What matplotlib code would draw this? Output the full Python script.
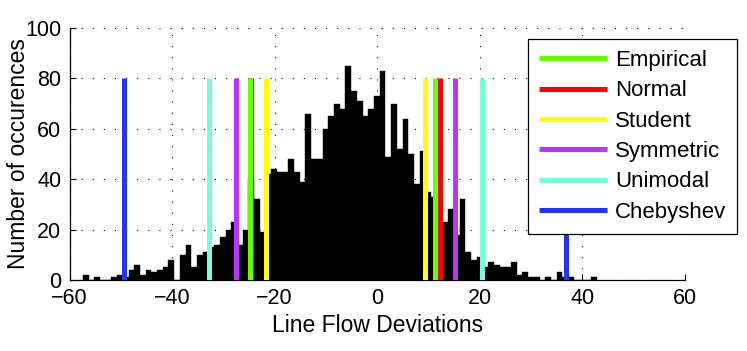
import matplotlib
matplotlib.use("Agg")
import matplotlib.pyplot as plt
import numpy as np

plt.rcParams["font.family"] = ["Liberation Sans", "DejaVu Sans"]
fs = 16.5  # axis label font size
ticks_fs = 15.5
lw = 3.6  # line width of the bound lines

# histogram of line flow deviations (90 bins)
hist_start = -57.4
bin_width = 1.113
counts = [2, 0, 1, 0, 0, 1, 2, 1, 4, 6,
          2, 4, 3, 4, 5, 8, 0, 10, 14, 5,
          10, 11, 13, 14, 17, 20, 23, 14, 20, 40,
          32, 19, 42, 44, 43, 43, 48, 43, 39, 66,
          48, 48, 60, 65, 70, 68, 85, 75, 71, 65,
          68, 73, 83, 49, 70, 52, 64, 50, 38, 51,
          35, 33, 35, 23, 28, 18, 32, 11, 8, 9,
          5, 7, 6, 5, 5, 7, 2, 3, 1, 1,
          0, 1, 0, 3, 1, 1, 0, 0, 0, 1]

# bounds per method
methods = ["Empirical", "Normal", "Student", "Symmetric", "Unimodal", "Chebyshev"]
lower = [-24.9, -24.6, -21.75, -27.6, -32.8, -49.3]
upper = [11.2, 12.2, 9.37, 15.2, 20.4, 36.8]
line_height = 80
colors = ["#66ff00", "#ff0000", "#ffff00", "#bb33ff", "#77ffdd", "#2233ff"]
zorders = [4, 3, 3, 3, 3, 3]

fig = plt.figure(figsize=(7.47, 3.51), dpi=100)
ax = fig.add_axes([69.5 / 747, 1 - 280 / 351, (685 - 69.5) / 747, (280 - 28) / 351])

edges = hist_start + bin_width * np.arange(len(counts))
ax.bar(edges, counts, width=bin_width, align="edge", color="k",
       edgecolor="k", linewidth=0.3, zorder=2)

for name, lo, up, c, z in zip(methods, lower, upper, colors, zorders):
    ax.vlines([lo, up], 0, line_height, colors=c, linewidth=lw, label=name, zorder=z)

ax.set_xlim(-60, 60)
ax.set_ylim(0, 100)
ax.set_xticks(np.arange(-60, 61, 20))
ax.set_yticks(np.arange(0, 101, 20))
ax.tick_params(direction="in", length=4, labelsize=ticks_fs, width=0.8, pad=6)
ax.spines["top"].set_visible(False)
ax.spines["right"].set_visible(False)
for s in ("left", "bottom"):
    ax.spines[s].set_linewidth(0.9)
ax.grid(True, linestyle=(0, (1, 9)), color="k", linewidth=0.8, zorder=1)
ax.set_axisbelow(True)

ax.set_xlabel("Line Flow Deviations", fontsize=fs, labelpad=3)
ax.set_ylabel("Number of occurences", fontsize=fs, labelpad=-3.5)

leg = ax.legend(loc="upper left", bbox_to_anchor=(528 / 747, 1 - 39 / 351),
                bbox_transform=fig.transFigure, fontsize=16, frameon=True,
                fancybox=False, framealpha=1, edgecolor="k", borderaxespad=0,
                handlelength=3.05, handletextpad=0.36, labelspacing=0.42, borderpad=0.5)
leg.get_frame().set_linewidth(0.9)
leg.set_zorder(10)

fig.savefig("out.png", dpi=100)
